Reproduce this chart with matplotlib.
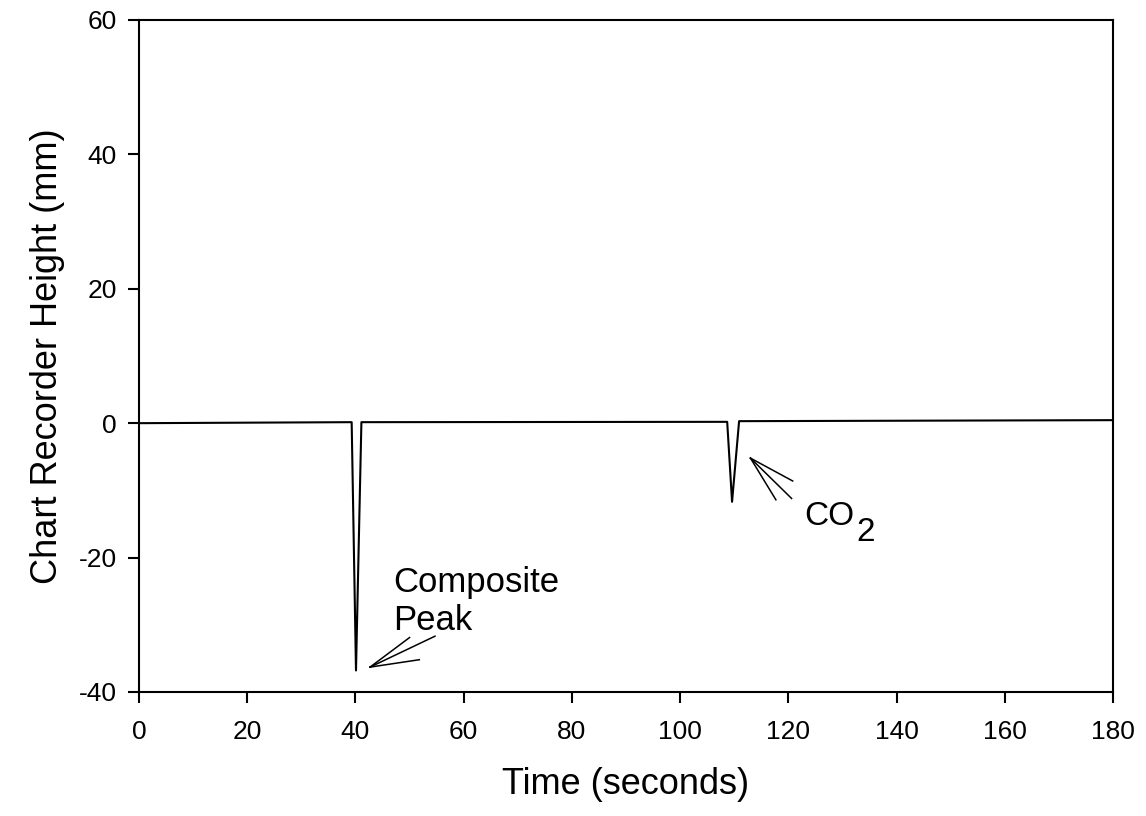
import matplotlib
matplotlib.use("Agg")
import matplotlib.pyplot as plt

plt.rcParams['font.family'] = ['Liberation Sans', 'DejaVu Sans']
plt.rcParams['axes.unicode_minus'] = False

# chart recorder trace (time in s, height in mm)
time_s = [0, 39.3, 40.1, 41.1, 108.7, 109.6, 110.9, 180]
height_mm = [0.0, 0.15, -36.8, 0.15, 0.2, -11.7, 0.3, 0.45]

x_ticks = [0, 20, 40, 60, 80, 100, 120, 140, 160, 180]
y_ticks = [-40, -20, 0, 20, 40, 60]

# pointer lines: (tip, tail) pairs
composite_tip = (42.7, -36.3)
composite_tails = [(50.0, -31.9), (54.7, -31.7), (51.8, -35.2)]
co2_tip = (113.0, -5.2)
co2_tails = [(120.8, -8.6), (120.6, -11.2), (117.7, -11.4)]

fig = plt.figure(figsize=(11.46, 8.16), dpi=100)
ax = fig.add_axes([0.1213, 0.152, 0.8499, 0.8235])

ax.plot(time_s, height_mm, color='black', lw=1.5)

for tx, ty in composite_tails:
    ax.plot([composite_tip[0], tx], [composite_tip[1], ty], color='black', lw=1.1)
for tx, ty in co2_tails:
    ax.plot([co2_tip[0], tx], [co2_tip[1], ty], color='black', lw=1.1)

ax.text(46.9, -30.8, "Composite\nPeak", fontsize=25, ha='left', va='baseline',
        linespacing=1.2)
co = ax.text(122.9, -15.2, "CO", fontsize=24, ha='left', va='baseline')
ax.annotate("2", xy=(1, 0), xycoords=co, xytext=(1.5, -6), textcoords='offset points',
            fontsize=24, ha='left', va='baseline')

ax.set_xlim(0, 180)
ax.set_ylim(-40, 60)
ax.set_xticks(x_ticks)
ax.set_yticks(y_ticks)
ax.tick_params(axis='both', direction='out', length=8, width=1.5, labelsize=19)
ax.tick_params(axis='x', pad=12)
ax.tick_params(axis='y', pad=8)
for sp in ax.spines.values():
    sp.set_linewidth(1.5)

ax.set_xlabel("Time (seconds)", fontsize=26, labelpad=17)
ax.set_ylabel("Chart Recorder Height (mm)", fontsize=26, labelpad=10)

fig.savefig("out.png", dpi=100)
